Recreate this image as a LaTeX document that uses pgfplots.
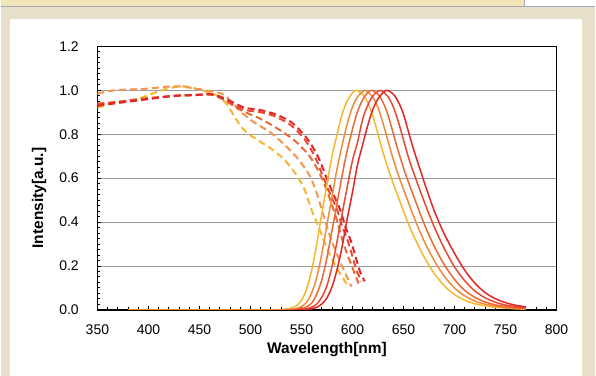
\documentclass[border=0pt]{standalone}
\usepackage{fontspec}
\setmainfont{Liberation Sans}
\usepackage{pgfplots}
\pgfplotsset{compat=1.18}
\definecolor{bgbeige}{HTML}{E8DFCA}
\definecolor{topbar}{HTML}{F2E5B8}
\definecolor{topline}{HTML}{A8A8B8}
\definecolor{cY}{HTML}{F5B82E}
\definecolor{cO}{HTML}{F28C37}
\definecolor{cOR}{HTML}{EE6834}
\definecolor{cR}{HTML}{E94832}
\definecolor{cDR}{HTML}{E32626}
\definecolor{cOd}{HTML}{F4964F}
\begin{document}
\begin{tikzpicture}[x=1pt,y=1pt]
\fill[bgbeige] (0,0) rectangle (596,376);
\fill[topbar] (0,370) rectangle (525,376);
\fill[white] (525,370) rectangle (596,376);
\draw[topline,line width=1.2pt] (0,369.6) -- (596,369.6);
\draw[topline,line width=1pt] (525,370) -- (525,376);
\fill[white] (9,0) rectangle (583,357);
\begin{axis}[
  at={(97pt,66pt)}, anchor=south west, scale only axis,
  width=460pt, height=264pt,
  every axis/.append style={line width=1.4pt},
  xmin=350, xmax=800, ymin=0, ymax=1.2,
  xtick={350,400,450,500,550,600,650,700,750,800},
  ytick={0,0.2,0.4,0.6,0.8,1.0,1.2},
  minor x tick num=4, minor y tick num=7,
  tick align=inside, xtick pos=bottom, ytick pos=left,
  major tick length=3.5pt, minor tick length=2.5pt,
  every tick/.style={black, line width=0.9pt},
  ymajorgrids,
  major grid style={color=black!38, line width=0.9pt},
  /pgf/number format/assume math mode=true,
  ticklabel style={font=\fontsize{14}{16}\selectfont, inner sep=0pt},
  xticklabel style={anchor=north, yshift=-14pt},
  yticklabel style={anchor=east, xshift=-18pt, /pgf/number format/.cd, fixed, fixed zerofill, precision=1},
]
% absorption (dashed)
\addplot[cY, line width=2pt, dash pattern=on 7pt off 4pt, smooth] coordinates {
(350,0.92)(360,0.935)(375,0.95)(390,0.962)(400,0.978)(413,1.0)(426,1.015)(436,1.018)(446,1.008)(456,0.995)(465,0.982)(472,0.96)(478,0.93)(485,0.875)(492,0.828)(500,0.795)(510,0.765)(520,0.735)(532,0.69)(542,0.635)(552,0.56)(560,0.455)(568,0.364)(576,0.27)(586,0.18)(596,0.106)};
\addplot[cOd, line width=2pt, dash pattern=on 7pt off 4pt, smooth] coordinates {
(350,0.985)(367,1.0)(397,1.007)(423,1.018)(436,1.015)(456,1.0)(472,0.985)(480,0.955)(490,0.905)(503,0.856)(519,0.81)(532,0.758)(545,0.697)(557,0.62)(564,0.545)(571,0.44)(578,0.335)(586,0.24)(593,0.167)(599,0.106)};
\addplot[cOR, line width=2pt, dash pattern=on 7pt off 4pt, smooth] coordinates {
(350,0.94)(375,0.95)(400,0.965)(440,0.978)(465,0.98)(475,0.955)(485,0.925)(495,0.9)(510,0.87)(525,0.83)(538,0.79)(546,0.76)(558,0.70)(568,0.62)(576,0.53)(584,0.42)(590,0.32)(596,0.24)(601,0.18)(606,0.12)};
\addplot[cR, line width=2pt, dash pattern=on 7pt off 4pt, smooth] coordinates {
(350,0.935)(375,0.95)(400,0.962)(425,0.975)(445,0.978)(462,0.98)(475,0.955)(485,0.93)(495,0.91)(510,0.90)(522,0.885)(537,0.85)(549,0.80)(557,0.75)(565,0.68)(570,0.62)(578,0.53)(585,0.455)(590,0.38)(595,0.32)(599,0.26)(604,0.18)(609,0.13)};
\addplot[cDR, line width=2pt, dash pattern=on 7pt off 4pt, smooth] coordinates {
(350,0.93)(375,0.945)(400,0.96)(425,0.975)(445,0.978)(462,0.982)(475,0.962)(485,0.94)(495,0.92)(510,0.91)(525,0.89)(540,0.855)(552,0.80)(560,0.75)(568,0.68)(573,0.62)(581,0.53)(588,0.455)(593,0.38)(598,0.32)(602,0.26)(607,0.18)(612,0.13)};
% emission (solid)
\addplot[cY, line width=1.5pt, smooth] coordinates {
(520,0)(530,0.001)(540,0.008)(545,0.019)(550,0.043)(555,0.094)(560,0.18)(565,0.30)(570,0.439)(575,0.572)(580,0.70)(585,0.80)(590,0.893)(595,0.953)(600,0.988)(604,1.0)(610,0.981)(615,0.944)(620,0.883)(625,0.80)(630,0.717)(635,0.643)(640,0.575)(645,0.513)(650,0.45)(655,0.39)(660,0.337)(670,0.243)(680,0.167)(690,0.11)(700,0.07)(710,0.044)(720,0.028)(730,0.018)(740,0.012)(750,0.008)(760,0.005)(770,0.003)};
\addplot[cO, line width=1.5pt, smooth] coordinates {
(380,0)(450,0)(520,0)(530,0)(540,0.002)(545,0.006)(550,0.015)(555,0.034)(560,0.077)(565,0.148)(570,0.255)(575,0.389)(580,0.515)(585,0.645)(590,0.752)(595,0.85)(600,0.924)(605,0.971)(610,0.994)(612,1.0)(615,0.993)(620,0.968)(625,0.922)(630,0.85)(635,0.767)(640,0.686)(645,0.614)(650,0.55)(655,0.488)(660,0.425)(670,0.316)(680,0.226)(690,0.153)(700,0.10)(710,0.064)(720,0.040)(730,0.026)(740,0.017)(750,0.011)(760,0.007)(770,0.004)};
\addplot[cOR, line width=1.5pt, smooth] coordinates {
(530,0)(540,0.0005)(545,0.002)(550,0.006)(555,0.014)(560,0.031)(565,0.072)(570,0.137)(575,0.237)(580,0.363)(585,0.487)(590,0.615)(595,0.728)(600,0.822)(605,0.903)(610,0.957)(615,0.989)(619,1.0)(625,0.982)(630,0.945)(635,0.886)(640,0.803)(645,0.722)(650,0.647)(655,0.58)(660,0.518)(670,0.395)(680,0.291)(690,0.206)(700,0.139)(710,0.089)(720,0.057)(730,0.036)(740,0.023)(750,0.015)(760,0.010)(770,0.006)};
\addplot[cR, line width=1.5pt, smooth] coordinates {
(540,0)(545,0.001)(550,0.002)(555,0.005)(560,0.012)(565,0.027)(570,0.058)(575,0.11)(580,0.198)(585,0.314)(590,0.44)(595,0.562)(600,0.68)(605,0.764)(610,0.868)(615,0.932)(620,0.974)(625,0.995)(627,1.0)(630,0.993)(635,0.97)(640,0.925)(645,0.857)(650,0.775)(655,0.693)(660,0.624)(670,0.497)(680,0.38)(690,0.28)(700,0.196)(710,0.133)(720,0.086)(730,0.055)(740,0.035)(750,0.022)(760,0.015)(770,0.010)};
\addplot[cDR, line width=1.5pt, smooth] coordinates {
(545,0)(550,0.001)(555,0.002)(560,0.005)(565,0.012)(570,0.027)(575,0.055)(580,0.105)(585,0.185)(590,0.292)(595,0.418)(600,0.535)(605,0.662)(610,0.752)(615,0.84)(620,0.913)(625,0.961)(630,0.99)(634,1.0)(640,0.983)(645,0.947)(650,0.892)(655,0.81)(660,0.73)(670,0.587)(680,0.453)(690,0.346)(700,0.258)(710,0.181)(720,0.122)(730,0.079)(740,0.051)(750,0.033)(760,0.021)(770,0.014)};
\end{axis}
\node[font=\fontsize{15.5}{18}\selectfont\bfseries] at (327,26) {Wavelength[nm]};
\node[font=\fontsize{15.5}{18}\selectfont\bfseries, rotate=90] at (38.5,178) {Intensity[a.u.]};
\end{tikzpicture}
\end{document}
